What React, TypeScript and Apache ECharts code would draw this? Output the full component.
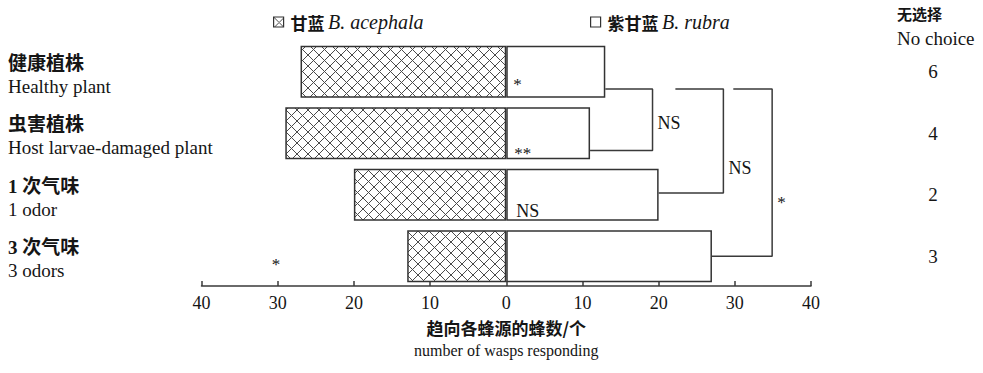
import React, { useEffect, useRef } from 'react';
import * as echarts from 'echarts';

// ---------- data ----------
const categoriesCn = ['健康植株', '虫害植株', '1 次气味', '3 次气味'];
const categoriesEn = ['Healthy plant', 'Host larvae-damaged plant', '1 odor', '3 odors'];
const seriesNames = ['甘蓝 B. acephala', '紫甘蓝 B. rubra'];
const acephalaCounts = [27, 29, 20, 13];
const rubraCounts = [13, 11, 20, 27];
const noChoiceCounts = [6, 4, 2, 3];
const rowSignificance = ['*', '**', 'NS', '*'];
const rowSignificanceSide = ['rubra', 'rubra', 'rubra', 'acephala'];
const comparisons = [
  { from: 0, to: 1, result: 'NS' },
  { from: 0, to: 2, result: 'NS' },
  { from: 0, to: 3, result: '*' },
];
const axisNameCn = '趋向各蜂源的蜂数/个';
const axisNameEn = 'number of wasps responding';
const noChoiceTitleCn = '无选择';
const noChoiceTitleEn = 'No choice';

// ---------- layout / style ----------
const SERIF = "'Liberation Serif', 'Times New Roman', serif";
const MIXED = "'Liberation Serif', 'Noto Sans CJK SC', serif";
const CJK = "'Noto Sans CJK SC', sans-serif";
const TEXT = '#151515';
const LINE = '#3a3a3a';

// bracket geometry in axis units (x: count, y: category index)
const bracketLayout = [
  { topStart: null as number | null, stem: 19.2, topDy: 0.28, bottomDy: 0.28, labelY: 0.83 },
  { topStart: 22.2, stem: 28.5, topDy: 0.28, bottomDy: -0.03, labelY: 1.56 },
  { topStart: 29.8, stem: 34.9, topDy: 0.28, bottomDy: 0, labelY: 2.13 },
];
// significance label placement per row (px)
const sigLabelLayout = [
  { distance: 5, offset: [2, 13] },
  { distance: 5, offset: [3, 20] },
  { distance: 5, offset: [5, 16] },
  { distance: 127, offset: [0, 8] },
];

function hatchPattern() {
  const s = 11;
  const svg = `<svg xmlns="http://www.w3.org/2000/svg" width="${s}" height="${s}"><path d="M-1 -1L${s + 1} ${s + 1}M${s + 1} -1L-1 ${s + 1}" stroke="#4a4a4a" stroke-width="1" fill="none"/></svg>`;
  return {
    image: 'data:image/svg+xml;charset=utf-8,' + encodeURIComponent(svg),
    repeat: 'repeat',
    imageWidth: s,
    imageHeight: s,
  };
}

function sigLabel(side: string, i: number) {
  if (rowSignificanceSide[i] !== side) return { show: false };
  const sig = rowSignificance[i];
  const L = sigLabelLayout[i];
  return {
    show: true,
    formatter: sig,
    position: side === 'rubra' ? 'insideLeft' : 'left',
    distance: L.distance,
    offset: L.offset,
    fontFamily: SERIF,
    fontSize: sig === 'NS' ? 18 : 17,
    color: TEXT,
  };
}

export default function App() {
  const ref = useRef<HTMLDivElement>(null);

  useEffect(() => {
    if (!ref.current) return;
    const chart = echarts.init(ref.current, null, { renderer: 'svg' });
    const hatch = hatchPattern();

    const legendBase = {
      icon: 'rect',
      itemWidth: 10,
      itemHeight: 10,
      itemGap: 0,
      selectedMode: false,
      itemStyle: { borderColor: '#333', borderWidth: 1.2 },
      formatter: (name: string) => {
        const k = name.indexOf(' ');
        return `{cn|${name.slice(0, k)}} {la|${name.slice(k + 1)}}`;
      },
      textStyle: {
        padding: [0, 0, 0, 2],
        rich: {
          cn: { fontFamily: CJK, fontSize: 17, fontWeight: 'bold', color: TEXT },
          la: { fontFamily: SERIF, fontStyle: 'italic', fontSize: 20, color: TEXT },
        },
      },
    };

    const option: any = {
      animation: false,
      backgroundColor: '#ffffff',
      grid: { left: 201.5, right: 172, top: 41, height: 246, containLabel: false, outerBoundsMode: 'none' },
      legend: [
        { ...legendBase, data: [seriesNames[0]], left: 268, top: 7 },
        { ...legendBase, data: [seriesNames[1]], left: 585, top: 7 },
      ],
      graphic: [
        { type: 'text', left: 897, top: 6, style: { text: noChoiceTitleCn, fontFamily: CJK, fontSize: 15, fontWeight: 'bold', fill: TEXT } },
        { type: 'text', left: 897, top: 29, style: { text: noChoiceTitleEn, fontFamily: SERIF, fontSize: 19, fill: TEXT } },
      ],
      xAxis: {
        type: 'value',
        min: -40,
        max: 40,
        interval: 10,
        offset: -1,
        axisLine: { show: true, onZero: false, lineStyle: { color: LINE, width: 1.5 } },
        axisTick: { show: true, inside: true, length: 5, lineStyle: { color: LINE, width: 1.5 } },
        axisLabel: {
          formatter: (v: number) => String(Math.abs(v)),
          fontFamily: SERIF,
          fontSize: 18,
          color: TEXT,
          margin: 8,
        },
        splitLine: { show: false },
        name: `{cn|${axisNameCn}}\n{en|${axisNameEn}}`,
        nameLocation: 'middle',
        nameGap: 30,
        nameTextStyle: {
          rich: {
            cn: { fontFamily: CJK, fontSize: 17, fontWeight: 'bold', lineHeight: 23, color: TEXT },
            en: { fontFamily: SERIF, fontSize: 16, lineHeight: 23, color: TEXT },
          },
        },
      },
      yAxis: [
        {
          type: 'category',
          data: categoriesEn,
          inverse: true,
          position: 'left',
          axisLine: { show: false, onZero: false },
          axisTick: { show: false },
          splitLine: { show: false },
          axisLabel: {
            interval: 0,
            align: 'left',
            margin: 193.5,
            padding: [6, 0, 0, 0],
            formatter: (v: string, i: number) => `{cn|${categoriesCn[i]}}\n{en|${v}}`,
            rich: {
              cn: { fontFamily: MIXED, fontSize: 19, fontWeight: 'bold', lineHeight: 23, color: TEXT },
              en: { fontFamily: SERIF, fontSize: 19, lineHeight: 23, color: TEXT },
            },
          },
        },
        {
          type: 'category',
          data: categoriesEn,
          inverse: true,
          position: 'right',
          axisLine: { show: false, onZero: false },
          axisTick: { show: false },
          splitLine: { show: false },
          axisLabel: {
            interval: 0,
            align: 'center',
            margin: 122,
            padding: [28, 0, 0, 0],
            formatter: (_v: string, i: number) => String(noChoiceCounts[i]),
            fontFamily: SERIF,
            fontSize: 19,
            color: TEXT,
          },
        },
        {
          type: 'value',
          min: -0.5,
          max: 3.5,
          inverse: true,
          position: 'right',
          show: false,
          axisLine: { onZero: false },
        },
      ],
      series: [
        {
          name: seriesNames[0],
          type: 'bar',
          stack: 'row',
          barWidth: 52,
          yAxisIndex: 0,
          itemStyle: { color: hatch, borderColor: '#333', borderWidth: 1.5 },
          data: acephalaCounts.map((v, i) => ({ value: -v, label: sigLabel('acephala', i) })),
        },
        {
          name: seriesNames[1],
          type: 'bar',
          stack: 'row',
          barWidth: 52,
          yAxisIndex: 0,
          itemStyle: { color: '#ffffff', borderColor: '#333', borderWidth: 1.5 },
          data: rubraCounts.map((v, i) => ({ value: v, label: sigLabel('rubra', i) })),
        },
        ...comparisons.map((c, k) => {
          const L = bracketLayout[k];
          const topStart = L.topStart ?? rubraCounts[c.from];
          const yTop = c.from + L.topDy;
          const yBot = c.to + L.bottomDy;
          return {
            type: 'line',
            xAxisIndex: 0,
            yAxisIndex: 2,
            symbol: 'none',
            silent: true,
            z: 3,
            lineStyle: { color: LINE, width: 1.5 },
            data: [
              [topStart, yTop],
              [L.stem, yTop],
              [L.stem, yBot],
              [rubraCounts[c.to], yBot],
            ],
          };
        }),
        {
          type: 'custom',
          xAxisIndex: 0,
          yAxisIndex: 2,
          silent: true,
          z: 4,
          data: comparisons.map((_c, k) => [bracketLayout[k].stem, bracketLayout[k].labelY]),
          renderItem: (params: any, api: any) => {
            const p = api.coord([api.value(0), api.value(1)]);
            const res = comparisons[params.dataIndex].result;
            return {
              type: 'text',
              x: p[0] + 5,
              y: p[1],
              style: {
                text: res,
                fill: TEXT,
                fontFamily: SERIF,
                fontSize: res === 'NS' ? 18 : 17,
                align: 'left',
                verticalAlign: 'middle',
              },
            };
          },
        },
      ],
    };

    chart.setOption(option);
    return () => chart.dispose();
  }, []);

  return (
    <div
      ref={ref}
      style={{ position: 'absolute', left: 0, top: 0, width: 983, height: 373, background: '#fff' }}
    />
  );
}
